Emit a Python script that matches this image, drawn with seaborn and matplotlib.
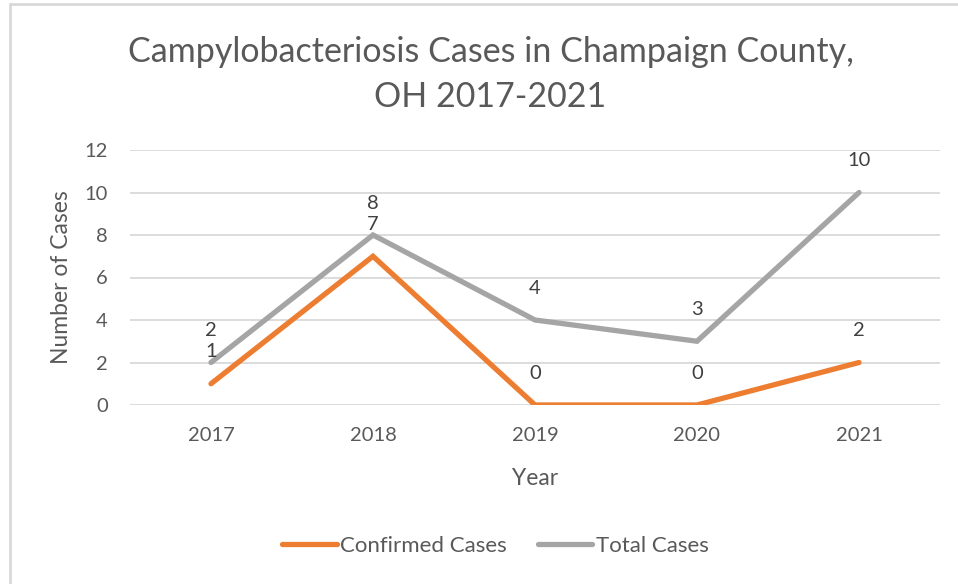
import numpy as np
import pandas as pd
import seaborn as sns
from matplotlib import pyplot as plt
from matplotlib.lines import Line2D

years = ['2017', '2018', '2019', '2020', '2021']
confirmed = [1, 7, 0, 0, 2]
total = [2, 8, 4, 3, 10]
series_names = ['Confirmed Cases', 'Total Cases']
colors = {'Confirmed Cases': '#ED7D31', 'Total Cases': '#A5A5A5'}

df = pd.DataFrame({'Year': years * 2,
                   'Cases': confirmed + total,
                   'Series': [series_names[0]] * len(years) + [series_names[1]] * len(years)})

sns.set_theme(style='white')
plt.rcParams['font.family'] = ['Lato', 'DejaVu Sans']
text_color = '#595959'

fig = plt.figure(figsize=(9.58, 5.84), dpi=100)
ax = fig.add_axes([130 / 958, 1 - 405 / 584, 810 / 958, 255 / 584])

sns.lineplot(data=df, x='Year', y='Cases', hue='Series', palette=colors,
             linewidth=3.8, sort=False, ax=ax, legend=False)
for line in ax.lines:
    line.set_solid_capstyle('round')
    line.set_solid_joinstyle('miter')

ax.set_xlim(-0.5, len(years) - 0.5)
ax.set_ylim(0, 12)
ax.set_yticks(range(0, 13, 2))
ax.yaxis.grid(True, color='#D9D9D9', linewidth=1.3)
ax.set_axisbelow(True)
for s in ax.spines.values():
    s.set_visible(False)
ax.tick_params(axis='x', length=0, labelsize=14.5, colors=text_color, pad=16)
ax.tick_params(axis='y', length=0, labelsize=14.5, colors=text_color, pad=16)

# data labels above points
for name, vals in zip(series_names, [confirmed, total]):
    for i, v in enumerate(vals):
        ax.annotate(str(v), (i, v), xytext=(0, 23), textcoords='offset points',
                    ha='center', va='center', fontsize=14.5, color='#404040')

ax.set_xlabel('Year', fontsize=16.5, color=text_color, labelpad=17)
ax.set_ylabel('Number of Cases', fontsize=16.5, color=text_color, labelpad=9)

fig.text(0.512, 1 - 52 / 584, 'Campylobacteriosis Cases in Champaign County,',
         ha='center', va='center', fontsize=24.5, color=text_color)
fig.text(0.512, 1 - 97 / 584, 'OH 2017-2021',
         ha='center', va='center', fontsize=24.5, color=text_color)

handles = [Line2D([], [], color=colors[n], linewidth=3.8, solid_capstyle='round') for n in series_names]
fig.legend(handles, series_names, loc='center', bbox_to_anchor=(0.517, 1 - 546 / 584),
           ncol=2, frameon=False, fontsize=16, labelcolor=text_color,
           handlelength=2.45, handletextpad=0.15, columnspacing=1.4)

# light frame on the top and left edges of the chart area
fig.add_artist(Line2D([10 / 958, 1], [1 - 4 / 584, 1 - 4 / 584], transform=fig.transFigure,
                      color='#D9D9D9', linewidth=2))
fig.add_artist(Line2D([10 / 958, 10 / 958], [0, 1 - 4 / 584], transform=fig.transFigure,
                      color='#D9D9D9', linewidth=2))

fig.savefig('out.png', dpi=100, facecolor='white')
